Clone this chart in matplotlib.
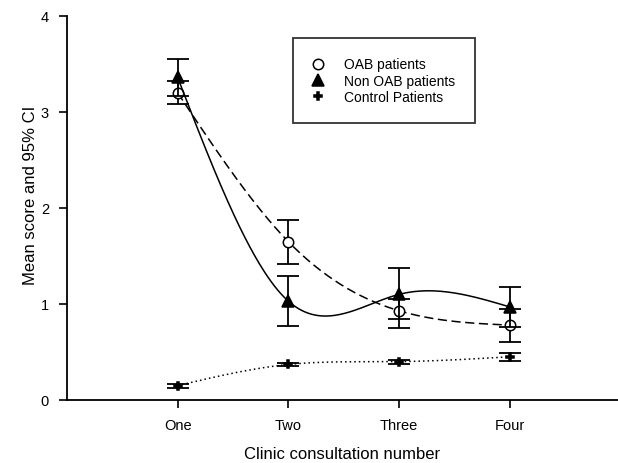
import numpy as np
import matplotlib.pyplot as plt

plt.rcParams['font.family'] = ['Liberation Sans', 'DejaVu Sans']

visits = [1, 2, 3, 4]
visit_labels = ["One", "Two", "Three", "Four"]

oab_mean = [3.20, 1.65, 0.93, 0.78]
oab_lo = [3.08, 1.42, 0.75, 0.60]
oab_hi = [3.32, 1.87, 1.05, 0.95]

non_mean = [3.36, 1.03, 1.10, 0.97]
non_lo = [3.17, 0.77, 0.84, 0.76]
non_hi = [3.55, 1.29, 1.37, 1.18]

ctrl_mean = [0.15, 0.37, 0.40, 0.45]
ctrl_lo = [0.13, 0.35, 0.38, 0.41]
ctrl_hi = [0.17, 0.39, 0.42, 0.49]


def spline(x, y, n=200):
    # natural cubic spline, just for drawing the smooth connecting curve
    x = np.asarray(x, float)
    y = np.asarray(y, float)
    k = len(x)
    h = np.diff(x)
    A = np.zeros((k, k))
    b = np.zeros(k)
    A[0, 0] = A[-1, -1] = 1
    for i in range(1, k - 1):
        A[i, i - 1] = h[i - 1]
        A[i, i] = 2 * (h[i - 1] + h[i])
        A[i, i + 1] = h[i]
        b[i] = 6 * ((y[i + 1] - y[i]) / h[i] - (y[i] - y[i - 1]) / h[i - 1])
    M = np.linalg.solve(A, b)
    xs = np.linspace(x[0], x[-1], n)
    idx = np.clip(np.searchsorted(x, xs) - 1, 0, k - 2)
    x0, x1 = x[idx], x[idx + 1]
    hh = x1 - x0
    t0, t1 = x1 - xs, xs - x0
    ys = (M[idx] * t0**3 + M[idx + 1] * t1**3) / (6 * hh) \
        + (y[idx] / hh - M[idx] * hh / 6) * t0 + (y[idx + 1] / hh - M[idx + 1] * hh / 6) * t1
    return xs, ys


fig = plt.figure(figsize=(6.18, 4.64), dpi=100)
ax = fig.add_axes([67 / 618, 63 / 464, 551 / 618, 384 / 464])

series = [
    (oab_mean, oab_lo, oab_hi, (0, (6, 3)), "o", "white", 7.5, "OAB patients"),
    (non_mean, non_lo, non_hi, "-", "^", "black", 8.5, "Non OAB patients"),
    (ctrl_mean, ctrl_lo, ctrl_hi, (0, (1, 2)), "P", "black", 5.5, "Control Patients"),
]
for mean, lo, hi, ls, mk, fc, ms, lab in series:
    xs, ys = spline(visits, mean)
    ax.plot(xs, ys, color="black", lw=1.1, linestyle=ls)
    err = [np.subtract(mean, lo), np.subtract(hi, mean)]
    ax.errorbar(visits, mean, yerr=err, fmt="none", ecolor="black", elinewidth=1.3, capsize=8, capthick=1.3)
    ax.plot(visits, mean, linestyle="none", marker=mk, ms=ms, mfc=fc, mec="black", mew=1.1, label=lab)

ax.set_xlim(0, 4.98)
ax.set_ylim(0, 4)
ax.set_xticks(visits)
ax.set_xticklabels(visit_labels)
ax.set_yticks([0, 1, 2, 3, 4])
ax.tick_params(direction="out", length=6, width=1.2, labelsize=10.5, pad=7)
for s in ["top", "right"]:
    ax.spines[s].set_visible(False)
for s in ["left", "bottom"]:
    ax.spines[s].set_linewidth(1.3)

ax.set_xlabel("Clinic consultation number", fontsize=12)
ax.xaxis.set_label_coords(0.5, -0.12)
ax.set_ylabel("Mean score and 95% CI", fontsize=12)
ax.yaxis.set_label_coords(-0.052, 0.535)

leg = ax.legend(loc="upper left", bbox_to_anchor=((293 - 67) / 551, (401 - 39) / 384),
                fontsize=10, frameon=True, fancybox=False, edgecolor="black",
                handlelength=0.8, borderpad=1.4, labelspacing=0.15, handletextpad=1.5,
                borderaxespad=0)
leg.get_frame().set_linewidth(1.3)

fig.savefig("out.png", dpi=100)
